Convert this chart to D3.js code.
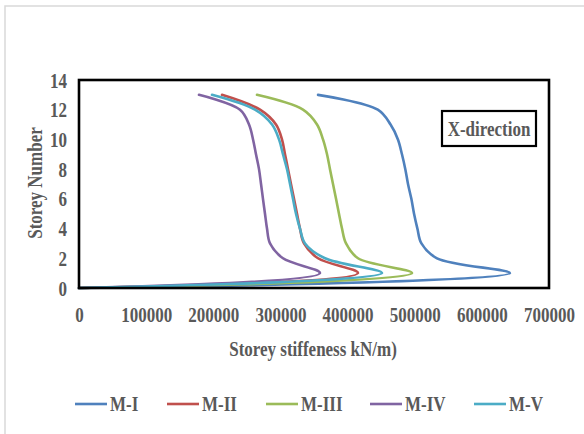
<!DOCTYPE html>
<html><head><meta charset="utf-8">
<script src="https://cdn.jsdelivr.net/npm/d3@7"></script>
<style>body{margin:0;background:#fff}svg{display:block}</style>
</head><body>
<svg id="c" width="584" height="434"></svg>
<script>
const storeys = [0,1,2,3,4,5,6,7,8,9,10,11,12,13];
const seriesNames = ["M-I","M-II","M-III","M-IV","M-V"];
const mI   = [0,641900,533200,510000,504000,499000,495000,490000,486000,481000,475000,464000,445000,356000];
const mII  = [0,415500,356000,335100,329100,324700,320200,315700,311300,306800,302300,293400,269600,213000];
const mIII = [0,496000,415500,397700,391700,387200,382800,378300,373800,369400,363400,354500,333600,265100];
const mIV  = [0,358900,303800,284500,280000,277000,274000,271100,268100,263600,259200,253200,239800,178700];
const mV   = [0,451300,366400,336600,329100,323200,318700,314300,309800,303800,297900,287500,262100,198100];
const xTicks = [0,100000,200000,300000,400000,500000,600000,700000];
const yTicks = [0,2,4,6,8,10,12,14];
const colors = ["#4F81BD","#C0504D","#9BBB59","#8064A2","#4BACC6"];
const allSeries = [mI,mII,mIII,mIV,mV];

const svg = d3.select("#c");
const FONT = "'Liberation Serif','Times New Roman',serif";
const GREY = "#595959";
const SX = 0.85;
const FS = 20;

svg.append("rect").attr("x",5).attr("y",6).attr("width",600).attr("height",460)
  .attr("fill","#fff").attr("stroke","#d9d9d9").attr("stroke-width",1.5);

const L=79, R=549, T=80, B=288;
const x = d3.scaleLinear().domain([0,700000]).range([L,R]);
const y = d3.scaleLinear().domain([0,14]).range([B,T]);

function txt(g, px, py, s, size, anchor, rot){
  return g.append("text")
    .attr("transform", `translate(${px},${py})` + (rot?` rotate(${rot})`:"") + ` scale(${SX},1)`)
    .attr("font-family",FONT).attr("font-weight","bold").attr("font-size",size)
    .attr("fill",GREY).attr("text-anchor",anchor||"start").text(s);
}

const xa = svg.append("g").attr("transform",`translate(0,${B})`)
  .call(d3.axisBottom(x).tickValues(xTicks).tickSize(0).tickPadding(0).tickFormat(d3.format("d")));
xa.select(".domain").remove();
xa.selectAll(".tick text").each(function(d){
  const tk = d3.select(this.parentNode);
  d3.select(this).remove();
  txt(tk, 0, 34, d3.format("d")(d), FS, "middle");
});
const ya = svg.append("g").attr("transform",`translate(${L},0)`)
  .call(d3.axisLeft(y).tickValues(yTicks).tickSize(0).tickPadding(0));
ya.select(".domain").remove();
ya.selectAll(".tick text").each(function(d){
  const tk = d3.select(this.parentNode);
  d3.select(this).remove();
  txt(tk, -12, 7, String(d), FS, "end");
});

const line = d3.line().x(d=>x(d[0])).y(d=>y(d[1])).curve(d3.curveCatmullRom.alpha(0.5));
allSeries.forEach((vals,i)=>{
  svg.append("path").datum(vals.map((v,k)=>[v,storeys[k]]))
    .attr("d",line).attr("fill","none").attr("stroke",colors[i])
    .attr("stroke-width",2.6).attr("stroke-linejoin","round").attr("stroke-linecap","round");
});

svg.append("rect").attr("x",L).attr("y",T).attr("width",R-L).attr("height",B-T)
  .attr("fill","none").attr("stroke","#000").attr("stroke-width",2.6);

txt(svg, 313, 356, "Storey stiffeness kN/m)", FS, "middle");
txt(svg, 42, 183, "Storey Number", FS, "middle", -90);

svg.append("rect").attr("x",442).attr("y",111).attr("width",94).attr("height",35)
  .attr("fill","#fff").attr("stroke","#000").attr("stroke-width",2.2);
txt(svg, 489, 135.5, "X-direction", FS, "middle");

const legX = [75,167,266,370,474];
seriesNames.forEach((n,i)=>{
  svg.append("line").attr("x1",legX[i]).attr("x2",legX[i]+32).attr("y1",404).attr("y2",404)
    .attr("stroke",colors[i]).attr("stroke-width",2.6);
  txt(svg, legX[i]+35, 410.5, n, FS, "start");
});
</script>
</body></html>
